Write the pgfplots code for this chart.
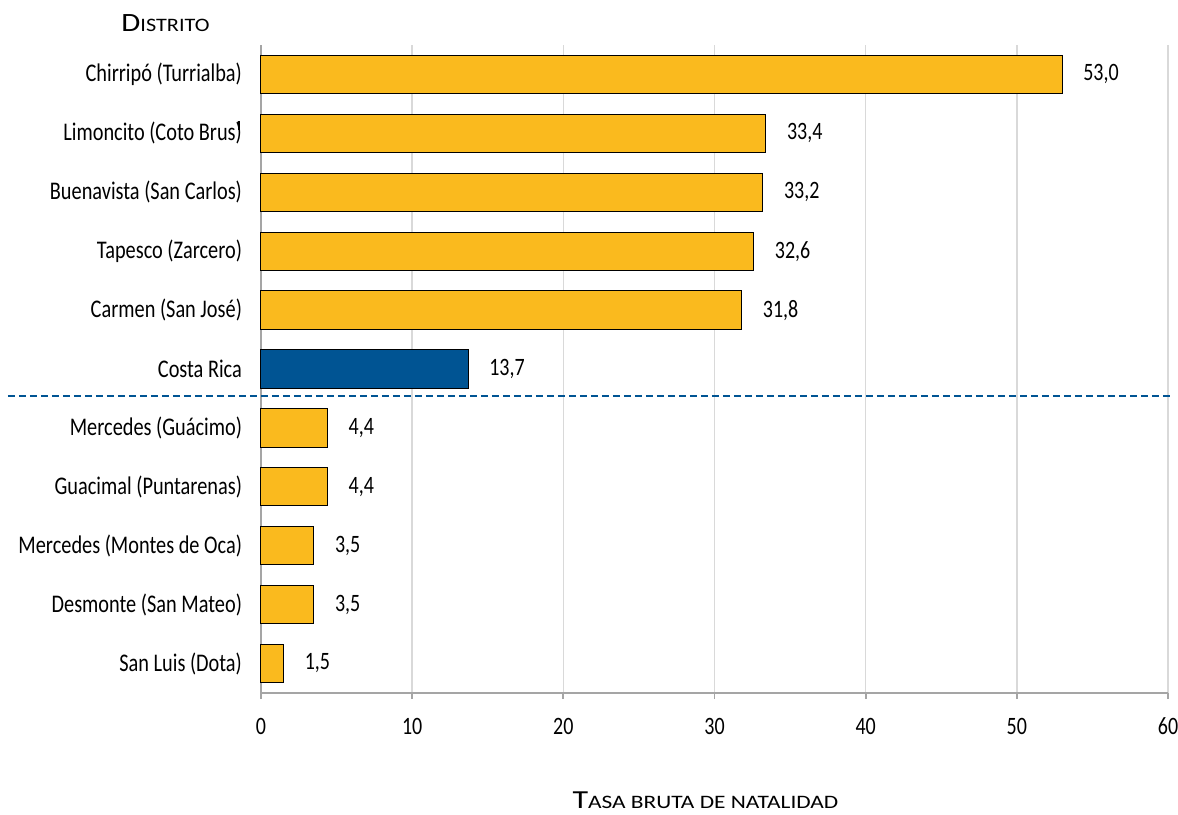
\documentclass[border=0pt]{standalone}
\usepackage{pgfplots}
\pgfplotsset{compat=1.18}
\usepackage{fontspec}
\setmainfont[FakeStretch=0.8]{Carlito}
\newfontfamily\capA[FakeStretch=1.17]{Carlito}
\newfontfamily\capB[FakeStretch=1.23]{Carlito}
\definecolor{barY}{RGB}{250,186,30}
\definecolor{barB}{RGB}{0,84,147}
\definecolor{axG}{RGB}{165,165,165}
\definecolor{grG}{RGB}{217,217,217}
\begin{document}
\begin{tikzpicture}
\begin{axis}[
  at={(0,0)}, anchor=south west,
  scale only axis, width=453.5pt, height=324pt,
  xbar, bar width=0.65, bar shift=0pt,
  xmin=0, xmax=60, ymin=-0.5, ymax=10.5,
  axis x line*=bottom, axis y line*=left,
  axis line style={axG, line width=0.9pt, -},
  xtick={0,10,...,60},
  xmajorgrids, grid style={grG, line width=0.7pt},
  tick style={axG, line width=0.9pt},
  xtick align=outside, major tick length=3pt,
  ytick={0,...,10},
  yticklabels={San Luis (Dota),Desmonte (San Mateo),Mercedes (Montes de Oca),Guacimal (Puntarenas),Mercedes (Guácimo),Costa Rica,Carmen (San José),Tapesco (Zarcero),Buenavista (San Carlos),Limoncito (Coto Brus),Chirripó (Turrialba)},
  ytick style={draw=none},
  extra y ticks={-0.5,0.5,...,10.5},
  extra y tick labels={},
  extra y tick style={ytick style={axG, line width=0.9pt}, ytick align=outside, major tick length=3pt},
  yticklabel style={font=\fontsize{12.7}{15}\selectfont, xshift=-3pt},
  xticklabel style={font=\fontsize{12.5}{14}\selectfont, yshift=-6pt},
  /pgf/number format/assume math mode=true,
  nodes near coords,
  nodes near coords style={font=\fontsize{12.5}{14}\selectfont, anchor=west, xshift=7pt, text=black,
    /pgf/number format/.cd, fixed, fixed zerofill, precision=1, use comma},
  clip=false,
]
\addplot[fill=barY, draw=black, line width=0.5pt] coordinates {
  (1.5,0) (3.5,1) (3.5,2) (4.4,3) (4.4,4) (31.8,6) (32.6,7) (33.2,8) (33.4,9) (53.0,10)};
\addplot[fill=barB, draw=black, line width=0.5pt] coordinates {(13.7,5)};
\draw[barB, line width=1pt, dash pattern=on 3.5pt off 2pt] (axis cs:-16.74,4.54) -- (axis cs:60.26,4.54);
\node[inner sep=0pt, font=\capA\fontsize{13.2}{15}\selectfont] at (axis description cs:-0.1053,1.0332) {D{\fontsize{9.5}{11}\selectfont ISTRITO}};
\node[inner sep=0pt, font=\capB\fontsize{13}{15}\selectfont] at (axis description cs:0.490,-0.166) {T{\fontsize{9.5}{11}\selectfont ASA BRUTA DE NATALIDAD}};
\end{axis}
\draw[black, line width=0.7pt] (-11pt,286pt) -- (-11pt,281.5pt);
\pgfresetboundingbox
\path[use as bounding box] (-130.5pt,-60.5pt) rectangle (458.5pt,346.5pt);
\end{tikzpicture}
\end{document}
